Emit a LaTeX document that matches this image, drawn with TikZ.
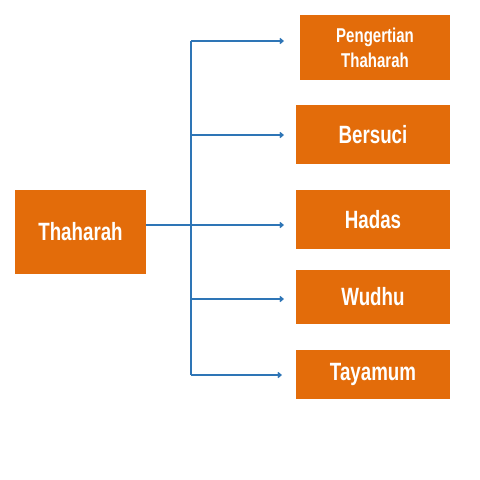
\documentclass[tikz,border=0pt]{standalone}
\usepackage{fontspec}
\setmainfont{Liberation Sans}[FakeStretch=0.75]
\usepackage{xcolor}
\usetikzlibrary{arrows.meta}
\definecolor{boxorange}{HTML}{E36C0A}
\definecolor{lineblue}{HTML}{2E75B6}

\begin{document}
\begin{tikzpicture}[
    x=1pt, y=-1pt,
    >={Straight Barb[length=3pt, width=5pt]},
    topic/.style={rectangle, fill=boxorange, text=white, inner sep=0pt, align=center,
        font=\bfseries\fontsize{25}{27}\selectfont},
    link/.style={draw=lineblue, line width=1.5pt}
]
\useasboundingbox (0,0) rectangle (480,480);

% Nodes :
\node[topic, minimum width=131pt, minimum height=84pt] (thaharah) at (80.5, 232) {Thaharah};
\node[topic, minimum width=150pt, minimum height=65pt, font=\bfseries\fontsize{20}{25}\selectfont]
    (pengertian) at (375, 47.5) {Pengertian\\Thaharah};
\node[topic, minimum width=154pt, minimum height=59pt] (bersuci) at (373, 134.5) {Bersuci};
\node[topic, minimum width=154pt, minimum height=59pt] (hadas) at (373, 219.5) {Hadas};
\node[topic, minimum width=154pt, minimum height=54pt] (wudhu) at (373, 297) {Wudhu};
\node[topic, minimum width=154pt, minimum height=49pt] (tayamum) at (373, 374.5) {Tayamum};

% Coordinates :
\coordinate (top) at (191, 41);
\coordinate (bottom) at (191, 375);
\coordinate (endP) at (284, 41);
\coordinate (endB) at (284, 135);
\coordinate (endH) at (284, 225);
\coordinate (endW) at (284, 299);
\coordinate (endT) at (282, 375);

% Edges :
\draw[link] (top) -- (bottom);
\draw[link, ->] (thaharah.east |- endH) -- (endH);
\draw[link, ->] (top) -- (endP);
\draw[link, ->] (top |- endB) -- (endB);
\draw[link, ->] (top |- endW) -- (endW);
\draw[link, ->] (bottom) -- (endT);

\end{tikzpicture}
\end{document}
